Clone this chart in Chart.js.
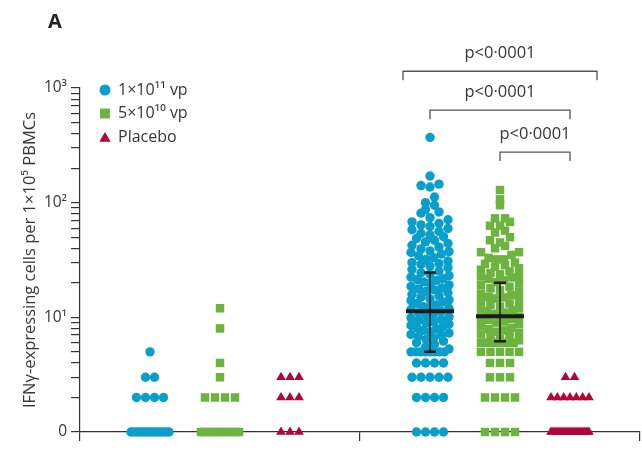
<!DOCTYPE html>
<html>
<head>
<meta charset="utf-8">
<script src="https://cdn.jsdelivr.net/npm/chart.js@4"></script>
<style>
  body { margin: 0; background: #fff; }
</style>
</head>
<body>
<canvas id="grafico" width="642" height="450"></canvas>
<script>
// groups and the two time points (left block / right block)
const grupos = ['1×10¹¹ vp', '5×10¹⁰ vp', 'Placebo'];
const tiempos = ['Day 0', 'Day 28'];

// values (0 is drawn on the "0" line)
const dia0_alta = [0,0,0,0,0,0,0,0,0,0,0,0,0,0, 2,2,2,2, 3,3, 5];
const dia0_baja = [0,0,0,0,0,0,0,0,0,0, 2,2,2,2, 3, 4, 8, 12];
const dia0_placebo = [0,0,0, 2,2,2, 3,3,3];

const dia28_alta = [
  0,0,0,0, 2,2,2,2, 3,3,3,3,3, 4,4,4,4, 5,5,5,5,5,5,5,5,
  5.3,5.5,5.8,6,6.2,6.4,6.6,6.8,7,7.1,7.3,7.5,7.7,7.9,8.1,8.3,8.5,8.7,8.9,
  9.1,9.4,9.6,9.9,10.1,10.4,10.7,11,
  11.3,11.7,12,12.4,12.8,13.2,13.6,14,14.5,15,15.4,15.9,16.4,16.9,17.4,18,
  18.6,19.2,19.8,20.4,21,21.7,22.4,23.1,23.8,24.5,12.2,14.2,17.7,21.3,
  25.3,26.2,27.1,28,29,30,31,32,33.2,34.4,35.6,36.8,38,39.5,41,42.5,44,45.5,
  47,48.7,50.5,52.3,54,56,58,59.5,29.4,37.4,
  95,87,83,81,74,71,68,64,62,66,
  370,171,145,141,137,112,100
];
const dia28_baja = [
  0,0,0,0, 2,2,2,2, 3,3,3, 4,4,4, 5,5,5,5,5, 6,6,6,6,6,6,6,
  6.3,6.5,6.7,6.9,7.1,7.3,7.5,7.7,7.9,8.1,8.4,8.7,9,9.2,9.5,9.7,9.9,
  10.1,10.4,10.7,11,11.3,11.7,12,12.4,12.8,13.2,13.7,14.1,14.6,15.1,15.6,16.1,
  16.7,17.3,17.9,18.5,19.1,19.7,11.5,14.9,
  20.3,21,21.6,22.3,23,23.7,24.4,25.2,26,26.8,27.6,28.5,29.3,22.7,
  30,32,32,33,35,37,37,40,42,45,47,50,55,57,
  63,63,68,73,73,95,107,129
];
const dia28_placebo = [0,0,0,0,0,0,0,0,0,0,0,0,0,0,0,0,0,0,0,0, 2,2,2,2,2,2,2, 3,3];

// median and interquartile range (day 28)
const medianas = [11.3, 10.2];
const q1 = [5, 6.2];
const q3 = [24.6, 20];

// axis ticks
const yMayores = [1, 10, 100, 1000];
const yEtiquetas = ['0', '10¹', '10²', '10³'];
const xMarcas = [0, 3.5, 7];

// comparisons drawn above the day 28 block
const comparaciones = [
  { desde: 0, hasta: 2, nivel: 1400, texto: 'p<0·0001', extra: 27 },
  { desde: 0, hasta: 2, nivel: 640, texto: 'p<0·0001', extra: 0 },
  { desde: 1, hasta: 2, nivel: 276, texto: 'p<0·0001', extra: 0 }
];

const colores = ['#0a9fcb', '#6cb43f', '#b2063b'];
const formas = ['circle', 'rect', 'triangle'];
const radios = [4.7, 6, 5.6];
const pasos = [9, 10, 9];
const PX_POR_UNIDAD = 80; // 560 px of plot width over 7 units

// column position of a group in a block
function centro(bloque, g) {
  return 0.875 + bloque * 3.5 + g * 0.875;
}

// Prism-like column scatter: points in the same row are spread side by side
function columna(valores, x0, g) {
  let filas = {};
  valores.forEach((v) => {
    let y = Math.max(v, 1);
    let k = Math.round(Math.log10(y) / 0.07);
    (filas[k] = filas[k] || []).push(y);
  });
  let puntos = [];
  Object.values(filas).forEach((fila) => {
    fila.sort((a, b) => a - b);
    let n = fila.length;
    let paso = n > 1 ? Math.min(pasos[g], 38 / (n - 1)) : 0;
    let huecos = [];
    for (let i = 0; i < n; i++) huecos.push((i - (n - 1) / 2) * paso);
    huecos.sort((a, b) => Math.abs(a) - Math.abs(b));
    fila.forEach((y, i) => puntos.push({ x: x0 + huecos[i] / PX_POR_UNIDAD, y: y }));
  });
  return puntos;
}

const series = [
  [dia0_alta, dia28_alta],
  [dia0_baja, dia28_baja],
  [dia0_placebo, dia28_placebo]
];

const datasets = grupos.map((nombre, g) => ({
  label: nombre,
  data: columna(series[g][0], centro(0, g), g).concat(columna(series[g][1], centro(1, g), g)),
  pointStyle: formas[g],
  pointRadius: radios[g],
  pointBackgroundColor: colores[g],
  pointBorderWidth: 0,
  clip: false
}));

const textoColor = '#363636';

const extras = {
  id: 'extras',
  afterDatasetsDraw(chart) {
    const ctx = chart.ctx;
    const xs = chart.scales.x;
    const ys = chart.scales.y;
    ctx.save();

    // median with IQR
    ctx.strokeStyle = '#1b1b1b';
    medianas.forEach((m, g) => {
      let cx = xs.getPixelForValue(centro(1, g));
      let yM = ys.getPixelForValue(m);
      let y1 = ys.getPixelForValue(q1[g]);
      let y3 = ys.getPixelForValue(q3[g]);
      ctx.lineWidth = 1.5;
      ctx.beginPath(); ctx.moveTo(cx, y1); ctx.lineTo(cx, y3); ctx.stroke();
      ctx.lineWidth = 2.5;
      ctx.beginPath();
      ctx.moveTo(cx - 6, y1); ctx.lineTo(cx + 6, y1);
      ctx.moveTo(cx - 6, y3); ctx.lineTo(cx + 6, y3);
      ctx.stroke();
      ctx.lineWidth = 4;
      ctx.beginPath(); ctx.moveTo(cx - 24, yM); ctx.lineTo(cx + 24, yM); ctx.stroke();
    });

    // brackets
    ctx.strokeStyle = '#555';
    ctx.lineWidth = 1.3;
    ctx.fillStyle = textoColor;
    ctx.font = "16.5px 'Open Sans'";
    ctx.textAlign = 'center';
    ctx.textBaseline = 'middle';
    comparaciones.forEach((c) => {
      let xa = xs.getPixelForValue(centro(1, c.desde)) - c.extra;
      let xb = xs.getPixelForValue(centro(1, c.hasta)) + c.extra;
      let y = ys.getPixelForValue(c.nivel);
      ctx.beginPath();
      ctx.moveTo(xa, y + 9); ctx.lineTo(xa, y); ctx.lineTo(xb, y); ctx.lineTo(xb, y + 9);
      ctx.stroke();
      ctx.fillText(c.texto, (xa + xb) / 2, y - 18);
    });

    // legend
    ctx.textAlign = 'left';
    ctx.font = "16px 'Open Sans'";
    const tam = [5.5, 7, 6.6];
    grupos.forEach((nombre, g) => {
      let yl = chart.chartArea.top + 2 + g * 23.5;
      ctx.fillStyle = colores[g];
      Chart.helpers.drawPoint(ctx, { pointStyle: formas[g], radius: tam[g], rotation: 0, borderWidth: 0 },
        chart.chartArea.left + 25, g === 2 ? yl + 1.5 : yl);
      ctx.fillStyle = textoColor;
      ctx.fillText(nombre, chart.chartArea.left + 38, yl);
    });

    // panel letter
    ctx.font = "bold 20px 'Open Sans'";
    ctx.fillStyle = '#222';
    ctx.fillText('A', 48, 22);
    ctx.restore();
  }
};

Chart.defaults.font.family = "'Open Sans', sans-serif";
Chart.defaults.color = textoColor;

const config = {
  type: 'scatter',
  data: { datasets: datasets },
  options: {
    responsive: false,
    animation: false,
    layout: { autoPadding: false, padding: { top: 88, right: 2, left: 0, bottom: 0 } },
    plugins: { legend: { display: false }, tooltip: { enabled: false } },
    scales: {
      x: {
        type: 'linear',
        min: 0,
        max: 7,
        afterBuildTicks: (s) => { s.ticks = xMarcas.map((v) => ({ value: v })); },
        afterFit: (s) => { s.height = 18; },
        ticks: { display: false },
        grid: { drawOnChartArea: false, tickLength: 9, color: '#333', lineWidth: 1.2 },
        border: { color: '#333', width: 1.2 }
      },
      y: {
        type: 'logarithmic',
        min: 1,
        max: 1000,
        afterBuildTicks: (s) => {
          let marcas = [];
          yMayores.forEach((d, i) => {
            marcas.push({ value: d });
            if (i < yMayores.length - 1) {
              for (let k = 2; k <= 9; k++) marcas.push({ value: d * k });
            }
          });
          s.ticks = marcas;
        },
        afterFit: (s) => { s.width = 80; },
        ticks: {
          autoSkip: false,
          padding: 4,
          font: { size: 15.5 },
          color: textoColor,
          callback: (v) => {
            let i = yMayores.indexOf(v);
            return i >= 0 ? yEtiquetas[i] : '';
          }
        },
        grid: { drawOnChartArea: false, tickLength: 9, color: '#333', lineWidth: 1.2 },
        border: { color: '#333', width: 1.2 },
        title: {
          display: true,
          text: 'IFNγ-expressing cells per 1×10⁵ PBMCs',
          font: { size: 16.5 },
          color: textoColor,
          padding: { top: 20, bottom: 0 }
        }
      }
    }
  },
  plugins: [extras]
};

let myChart = new Chart(document.querySelector('#grafico').getContext('2d'), config);
</script>
</body>
</html>
